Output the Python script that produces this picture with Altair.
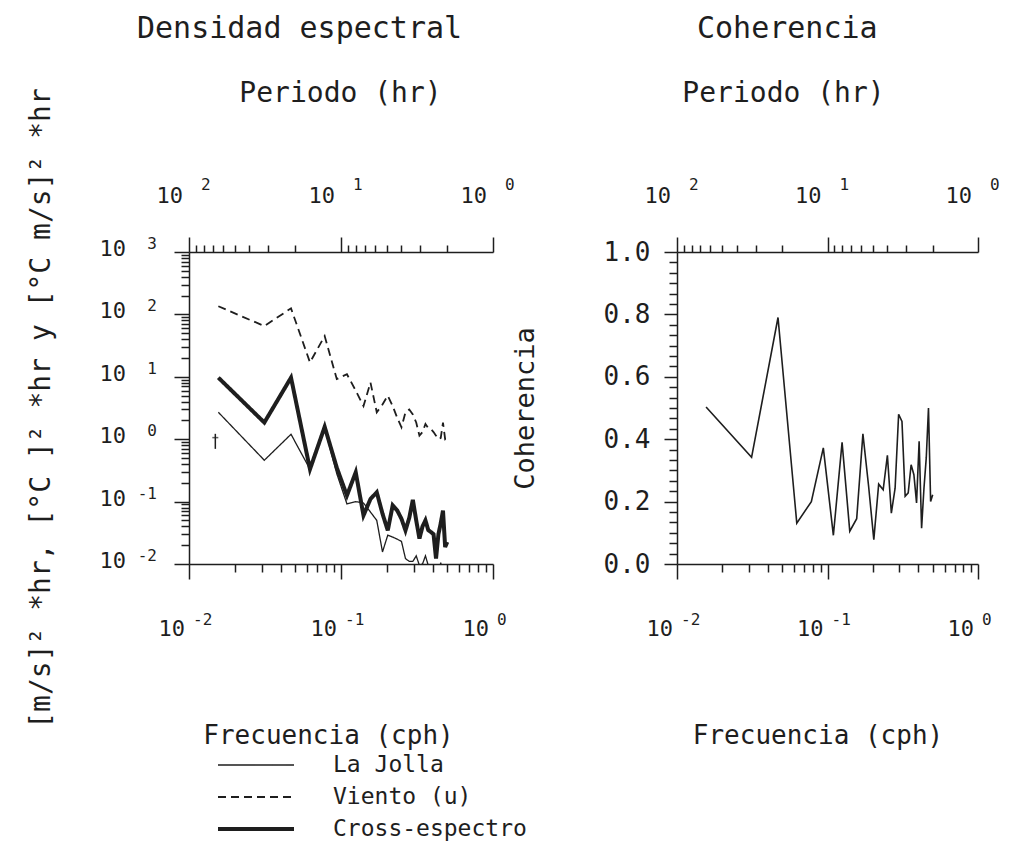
import altair as alt
import pandas as pd

FONT = "DejaVu Sans Mono"
INK = "#1e1e1e"

# ---------------- data ----------------
FREQ = [0.0156, 0.0313, 0.0469, 0.0625, 0.0781, 0.0938, 0.1094, 0.125,
        0.1406, 0.1563, 0.1719, 0.1875, 0.2031, 0.2188, 0.2344, 0.25,
        0.2656, 0.2813, 0.2969, 0.3125, 0.3281, 0.3438, 0.3594, 0.375,
        0.3906, 0.4063, 0.4219, 0.4375, 0.4531, 0.4688, 0.4844, 0.5]

LA_JOLLA = [2.7, 0.46, 1.2, 0.33, 1.5, 0.28, 0.092, 0.10, 0.095, 0.068, 0.05,
            0.0156, 0.029, 0.027, 0.025, 0.023, 0.0122, 0.011, 0.011, 0.0135,
            0.0095, 0.010, 0.0135, 0.0095, 0.0085, 0.0095, 0.008, 0.007,
            0.0105, 0.007, 0.006, 0.006]
VIENTO = [135, 65, 125, 17, 45, 9.2, 11, 6.0, 3.4, 8.1, 2.7, 3.6, 5.0, 3.4,
          2.2, 1.55, 2.7, 3.0, 2.5, 1.85, 1.14, 1.3, 1.75, 1.5, 1.45, 1.3,
          1.14, 1.0, 1.05, 1.85, 1.0, 1.05]
CROSS = [9.7, 1.85, 9.7, 0.33, 1.58, 0.35, 0.125, 0.295, 0.06, 0.11, 0.141,
         0.064, 0.0345, 0.087, 0.072, 0.053, 0.0345, 0.055, 0.107, 0.05,
         0.0255, 0.04, 0.05, 0.035, 0.0325, 0.03, 0.0122, 0.03, 0.045, 0.072,
         0.0187, 0.0225]
COHER = [0.503, 0.342, 0.79, 0.131, 0.20, 0.372, 0.092, 0.39, 0.105, 0.145,
         0.417, 0.25, 0.078, 0.256, 0.238, 0.348, 0.163, 0.243, 0.48, 0.457,
         0.217, 0.228, 0.318, 0.286, 0.196, 0.393, 0.115, 0.243, 0.34, 0.50,
         0.20, 0.222]

SERIES = ["La Jolla", "Viento (u)", "Cross-espectro"]

# confidence-interval marker
CI_F = [0.0149]
CI_LO = [0.70]
CI_HI = [1.22]
CI_MID = [1.06]

# tick labels (written as 10 + raised exponent)
FREQ_DECADES = [0.01, 0.1, 1.0]
FREQ_EXP = ["-2", "-1", "0"]
PER_DECADES = [100, 10, 1]
PER_EXP = ["2", "1", "0"]
DEN_DECADES = [0.01, 0.1, 1, 10, 100, 1000]
DEN_EXP = ["-2", "-1", "0", "1", "2", "3"]

Y_TITLE = "[m/s]² *hr, [°C ]² *hr y [°C m/s]² *hr"

# tick positions
FREQ_TICKS = [round(m * 10.0 ** d, 6) for d in (-2, -1) for m in range(1, 10)] + [1.0]
PER_TICKS = [100, 90, 80, 70, 60, 50, 40, 30, 20, 10, 9, 8, 7, 6, 5, 4, 3, 2, 1]
DEN_TICKS = [round(m * 10.0 ** d, 6) for d in (-2, -1, 0, 1, 2) for m in range(1, 10)] + [1000.0]
COH_TICKS = [round(i / 30, 6) for i in range(31)]

# ---------------- tables ----------------
spec_df = pd.DataFrame({
    "f": FREQ * 3,
    "v": LA_JOLLA + VIENTO + CROSS,
    "serie": [SERIES[0]] * len(FREQ) + [SERIES[1]] * len(FREQ) + [SERIES[2]] * len(FREQ),
})
coh_df = pd.DataFrame({"f": FREQ, "c": COHER})
ci_df = pd.DataFrame({"f": CI_F, "lo": CI_LO, "hi": CI_HI, "mid": CI_MID})
fdec_df = pd.DataFrame({"f": FREQ_DECADES, "exp": FREQ_EXP})
pdec_df = pd.DataFrame({"p": PER_DECADES, "exp": PER_EXP})
ddec_df = pd.DataFrame({"v": DEN_DECADES, "exp": DEN_EXP})

W1, W2, H = 304, 301, 312

MAJOR_LOG = "abs(log(datum.value)/LN10 - round(log(datum.value)/LN10)) < 0.001"
MAJOR_COH = "abs(datum.value*5 - round(datum.value*5)) < 0.001"


def tsize(test, major, minor):
    return {"condition": {"test": test, "value": major}, "value": minor}


AX = dict(domainColor=INK, domainWidth=1.5, tickColor=INK, tickWidth=1.5,
          grid=False, titleFont=FONT, titleFontWeight="normal", titleColor=INK,
          labelFont=FONT, labelColor=INK)

f_scale = alt.Scale(type="log", domain=[0.01, 1], nice=False)
p_scale = alt.Scale(type="log", domain=[1, 100], reverse=True, nice=False)
d_scale = alt.Scale(type="log", domain=[0.01, 1000], nice=False)
c_scale = alt.Scale(type="linear", domain=[0, 1], nice=False)


def freq_axis(w, dx):
    return alt.Axis(orient="bottom", values=FREQ_TICKS, labels=False,
                    tickSize=tsize(MAJOR_LOG, 15, 8),
                    title="Frecuencia (cph)", titleFontSize=26,
                    titleX=w / 2 + dx, titleY=179, titleAngle=0,
                    titleAlign="center", titleBaseline="alphabetic", **AX)


def per_axis(tx):
    return alt.Axis(orient="top", values=PER_TICKS, labels=False,
                    tickSize=tsize(MAJOR_LOG, 15, 7),
                    title="Periodo (hr)", titleFontSize=28,
                    titleX=tx, titleY=-151, titleAngle=0,
                    titleAlign="center", titleBaseline="alphabetic", **AX)


den_axis = alt.Axis(orient="left", values=DEN_TICKS, labels=False,
                    tickSize=tsize(MAJOR_LOG, 15, 8),
                    title=Y_TITLE, titleFontSize=28, titleX=-148, titleY=H / 2,
                    titleAngle=270, titleAlign="center", titleBaseline="middle", **AX)

coh_axis = alt.Axis(orient="left", values=COH_TICKS,
                    labelExpr=f"({MAJOR_COH}) ? format(datum.value, '.1f') : ''",
                    labelFontSize=26, labelPadding=14,
                    tickSize=tsize(MAJOR_COH, 13, 8),
                    title="Coherencia", titleFontSize=27, titleX=-152, titleY=H / 2,
                    titleAngle=270, titleAlign="center", titleBaseline="middle", **AX)


def freq_labels(w, dx):
    ax = freq_axis(w, dx)
    x = alt.X("f:Q", scale=f_scale, axis=ax)
    ten = alt.Chart(fdec_df).mark_text(font=FONT, fontSize=22, color=INK, align="right",
                                       baseline="alphabetic", dx=-4).encode(
        x=x, y=alt.value(H + 72), text=alt.value("10"))
    ex = alt.Chart(fdec_df).mark_text(font=FONT, fontSize=16, color=INK, align="left",
                                      baseline="alphabetic", dx=4).encode(
        x=x, y=alt.value(H + 61), text="exp:N")
    return ten, ex


def per_layer(tx):
    ax = per_axis(tx)
    x = alt.X("p:Q", scale=p_scale, axis=ax)
    ten = alt.Chart(pdec_df).mark_text(font=FONT, fontSize=22, color=INK, align="right",
                                       baseline="alphabetic", dx=-6).encode(
        x=x, y=alt.value(-49), text=alt.value("10"))
    ex = alt.Chart(pdec_df).mark_text(font=FONT, fontSize=16, color=INK, align="left",
                                      baseline="alphabetic", dx=12).encode(
        x=x, y=alt.value(-62), text="exp:N")
    return alt.layer(ten, ex)


# ---------------- left panel ----------------
fx1 = alt.X("f:Q", scale=f_scale, axis=freq_axis(W1, -13))
dy = alt.Y("v:Q", scale=d_scale, axis=den_axis)

legend = alt.Legend(title=None, orient="none", legendX=27, legendY=500,
                    symbolType="stroke", symbolSize=5776, symbolStrokeColor=INK,
                    labelFont=FONT, labelFontSize=23, labelColor=INK,
                    labelOffset=37, labelLimit=400, rowPadding=6, clipHeight=26,
                    direction="vertical")

lines = alt.Chart(spec_df).mark_line(clip=True, color=INK).encode(
    x=fx1, y=dy,
    detail="serie:N",
    strokeDash=alt.StrokeDash("serie:N", scale=alt.Scale(domain=SERIES, range=[[1, 0], [8, 5], [1, 0]]),
                              legend=legend),
    strokeWidth=alt.StrokeWidth("serie:N", scale=alt.Scale(type="ordinal", domain=SERIES, range=[1.3, 1.8, 4.0]),
                                legend=legend),
)

ci_bar = alt.Chart(ci_df).mark_rule(color=INK, strokeWidth=1.5).encode(
    x=fx1, y=alt.Y("lo:Q", scale=d_scale, axis=den_axis), y2="hi:Q")
ci_tick = alt.Chart(ci_df).mark_tick(color=INK, orient="horizontal", size=6, thickness=1.5).encode(
    x=fx1, y=alt.Y("mid:Q", scale=d_scale, axis=den_axis))

yten = alt.Chart(ddec_df).mark_text(font=FONT, fontSize=22, color=INK, align="right",
                                    baseline="alphabetic", dy=4).encode(
    x=alt.value(-63), y=dy, text=alt.value("10"))
yexp = alt.Chart(ddec_df).mark_text(font=FONT, fontSize=16, color=INK, align="right",
                                    baseline="alphabetic", dy=-3).encode(
    x=alt.value(-32), y=dy, text="exp:N")

ften1, fexp1 = freq_labels(W1, -13)

left = alt.layer(
    alt.layer(lines, ci_bar, ci_tick, yten, yexp, ften1, fexp1),
    per_layer(W1 / 2 - 1),
).resolve_scale(x="independent").properties(
    width=W1, height=H,
    title=alt.TitleParams("Densidad espectral", anchor="start", frame="group", dx=-52, offset=35,
                          font=FONT, fontSize=30, fontWeight="normal", color=INK),
)

# ---------------- right panel ----------------
fx2 = alt.X("f:Q", scale=f_scale, axis=freq_axis(W2, -10))
cline = alt.Chart(coh_df).mark_line(clip=True, color=INK, strokeWidth=1.6).encode(
    x=fx2, y=alt.Y("c:Q", scale=c_scale, axis=coh_axis))
ften2, fexp2 = freq_labels(W2, -10)

right = alt.layer(
    alt.layer(cline, ften2, fexp2),
    per_layer(106),
).resolve_scale(x="independent").properties(
    width=W2, height=H,
    title=alt.TitleParams("Coherencia", anchor="start", frame="group", dx=20, offset=35,
                          font=FONT, fontSize=30, fontWeight="normal", color=INK),
)

chart = alt.hconcat(left, right, spacing=184, bounds="flush").resolve_scale(
    x="independent", y="independent"
).properties(
    padding={"left": 18, "top": 6, "right": 5, "bottom": 0},
    background="white",
).configure_view(stroke=None)

chart.save("out.html", embed_options={"renderer": "svg", "actions": False})
